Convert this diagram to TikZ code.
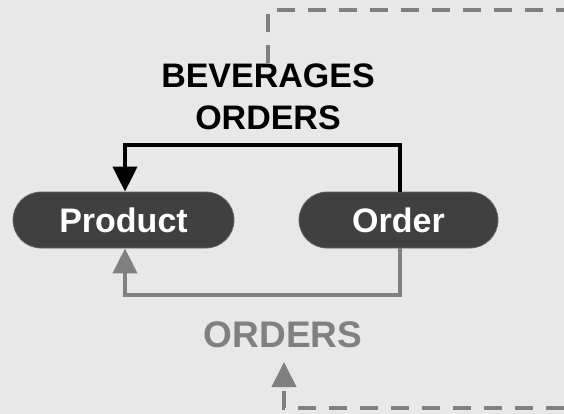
\documentclass[tikz,border=0pt]{standalone}
\usepackage{fontspec}
\setmainfont{Liberation Sans}
\usetikzlibrary{arrows.meta}
\definecolor{bgcol}{HTML}{E8E8E8}
\definecolor{boxcol}{HTML}{404040}
\definecolor{linkgray}{HTML}{808080}
\begin{document}
\begin{tikzpicture}[x=1pt,y=-1pt,
  entity/.style={fill=boxcol, draw=boxcol!80!white, line width=0.8pt,
    rounded corners=28pt, minimum height=56pt, inner sep=0pt,
    text=white, font=\fontsize{34}{40}\selectfont\bfseries},
  rellabel/.style={align=center, inner sep=0pt,
    font=\fontsize{34}{42}\selectfont\bfseries},
  link/.style={line width=4pt},
  tip/.style={-{Triangle[length=25pt,width=24pt]}},
  ext/.style={line width=4pt, linkgray, dash pattern=on 18pt off 13pt}
]
  \fill[bgcol] (0,0) rectangle (564,414);
  \useasboundingbox (0,0) rectangle (564,414);

  % entities
  \node[entity, minimum width=221pt] (prod) at (123.5,220) {Product};
  \node[entity, minimum width=199pt] (ord) at (398.5,220) {Order};

  % relationship labels
  \node[rellabel] (bev) at (268,96.5) {BEVERAGES\\ORDERS};
  \node[rellabel, text=linkgray, font=\fontsize{37}{42}\selectfont\bfseries]
    (ordlab) at (283,334.5) {ORDERS};

  % off-page ends of the external links
  \coordinate (topend) at (564,10);
  \coordinate (botend) at (564,408);
  \coordinate (ordtip) at (284,362);

  % relationship connectors
  \draw[link, tip] ([xshift=1.5pt]ord.north) -- ++(0,-47) -| ([xshift=1.5pt]prod.north);
  \draw[link, linkgray, tip] ([xshift=1.5pt]ord.south) -- ++(0,47) -| ([xshift=1.5pt]prod.south);

  % external links
  \draw[ext] (bev.north) -- (bev.north |- topend) -- (topend);
  \draw[ext, tip] (botend) -- (ordtip |- botend) -- (ordtip);
\end{tikzpicture}
\end{document}
